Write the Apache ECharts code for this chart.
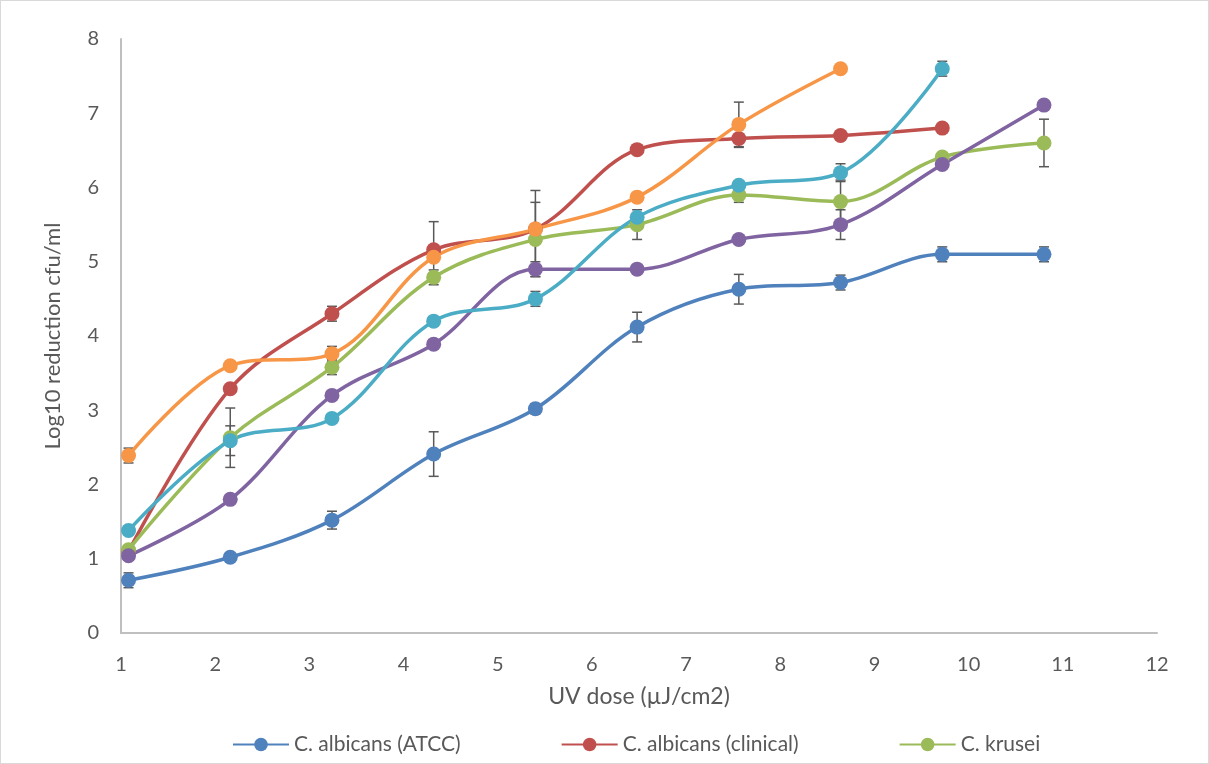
<!DOCTYPE html>
<html>
<head>
<meta charset="utf-8">
<script src="https://cdn.jsdelivr.net/npm/echarts@6/dist/echarts.min.js"></script>
<style>
  html, body { margin: 0; padding: 0; background: #fff; }
  #chart { width: 1209px; height: 764px; box-sizing: border-box; border: 1px solid #d9d9d9; }
</style>
</head>
<body>
<div id="chart"></div>
<script>
// UV dose values (x)
const doses = [1.08, 2.16, 3.24, 4.32, 5.4, 6.48, 7.56, 8.64, 9.72, 10.8];

// log10 reduction per strain
const atcc     = [0.71, 1.02, 1.52, 2.41, 3.02, 4.12, 4.63, 4.72, 5.10, 5.10];
const clinical = [1.10, 3.29, 4.30, 5.16, 5.44, 6.51, 6.66, 6.70, 6.80];
const krusei   = [1.12, 2.63, 3.58, 4.79, 5.30, 5.50, 5.90, 5.81, 6.41, 6.60];
const purple   = [1.04, 1.80, 3.20, 3.89, 4.90, 4.90, 5.30, 5.50, 6.31, 7.11];
const cyan     = [1.38, 2.59, 2.89, 4.20, 4.50, 5.60, 6.03, 6.20, 7.60];
const orange   = [2.39, 3.60, 3.76, 5.06, 5.44, 5.87, 6.85, 7.60];

// error bar half-widths (0 = none)
const atccErr     = [0.1, 0.05, 0.12, 0.3, 0.07, 0.2, 0.2, 0.1, 0.1, 0.1];
const clinicalErr = [0, 0, 0.1, 0.38, 0.52, 0, 0.12, 0, 0];
const kruseiErr   = [0, 0.4, 0.1, 0.1, 0.5, 0.2, 0.1, 0.29, 0, 0.32];
const purpleErr   = [0, 0, 0, 0, 0.1, 0, 0, 0.2, 0, 0];
const cyanErr     = [0, 0.2, 0, 0, 0.1, 0, 0, 0.12, 0.1];
const orangeErr   = [0.1, 0, 0.1, 0, 0, 0, 0.3, 0];

const seriesNames = ['C. albicans (ATCC)', 'C. albicans (clinical)', 'C. krusei', 'C. glabrata', 'C. parapsilosis', 'C. tropicalis'];
const seriesColors = ['#4f81bd', '#c0504d', '#9bbb59', '#8064a2', '#4bacc6', '#f79646'];
const seriesValues = [atcc, clinical, krusei, purple, cyan, orange];
const seriesErrors = [atccErr, clinicalErr, kruseiErr, purpleErr, cyanErr, orangeErr];

const FONT = 'Lato, "Open Sans", sans-serif';
const chart = echarts.init(document.getElementById('chart'));

// collect error bars
const errData = [];
seriesValues.forEach((vals, i) => {
    vals.forEach((v, j) => {
        const e = seriesErrors[i][j];
        if (e > 0) errData.push([doses[j], v - e, v + e]);
    });
});

const lineSeries = seriesValues.map((vals, i) => ({
    name: seriesNames[i],
    type: 'line',
    smooth: 0.35,
    symbol: 'circle',
    symbolSize: 15,
    z: 3,
    itemStyle: { color: seriesColors[i] },
    lineStyle: { color: seriesColors[i], width: 3.5 },
    data: vals.map((v, j) => [doses[j], v])
}));

const option = {
    animation: false,
    grid: { left: 120, right: 51, top: 38, bottom: 130 },
    legend: {
        data: seriesNames.slice(0, 3),
        left: 226,
        top: 728,
        itemWidth: 56,
        itemHeight: 17,
        itemGap: 100,
        textStyle: { fontFamily: FONT, fontSize: 21, color: '#595959' }
    },
    xAxis: {
        type: 'value',
        min: 1,
        max: 12,
        interval: 1,
        name: 'UV dose (µJ/cm2)',
        nameLocation: 'middle',
        nameGap: 52,
        nameTextStyle: { fontFamily: FONT, fontSize: 23, color: '#595959' },
        axisLine: { lineStyle: { color: '#bfbfbf', width: 2 } },
        axisTick: { show: false },
        splitLine: { show: false },
        axisLabel: { fontFamily: FONT, fontSize: 20, color: '#595959', margin: 22 }
    },
    yAxis: {
        type: 'value',
        min: 0,
        max: 8,
        interval: 1,
        name: 'Log10 reduction cfu/ml',
        nameLocation: 'middle',
        nameGap: 57,
        nameTextStyle: { fontFamily: FONT, fontSize: 22, color: '#595959' },
        axisLine: { show: true, lineStyle: { color: '#bfbfbf', width: 2 } },
        axisTick: { show: false },
        splitLine: { show: false },
        axisLabel: { fontFamily: FONT, fontSize: 20, color: '#595959', margin: 22 }
    },
    series: [
        {
            type: 'custom',
            z: 2,
            silent: true,
            encode: { x: 0, y: [1, 2] },
            data: errData,
            renderItem: function (params, api) {
                const x = api.value(0);
                const lo = api.coord([x, api.value(1)]);
                const hi = api.coord([x, api.value(2)]);
                const w = 5;
                const st = { stroke: '#595959', lineWidth: 1.5 };
                return {
                    type: 'group',
                    children: [
                        { type: 'line', shape: { x1: lo[0], y1: lo[1], x2: hi[0], y2: hi[1] }, style: st },
                        { type: 'line', shape: { x1: lo[0] - w, y1: lo[1], x2: lo[0] + w, y2: lo[1] }, style: st },
                        { type: 'line', shape: { x1: hi[0] - w, y1: hi[1], x2: hi[0] + w, y2: hi[1] }, style: st }
                    ]
                };
            }
        }
    ].concat(lineSeries)
};

chart.setOption(option);
window.addEventListener('resize', chart.resize);
</script>
</body>
</html>
